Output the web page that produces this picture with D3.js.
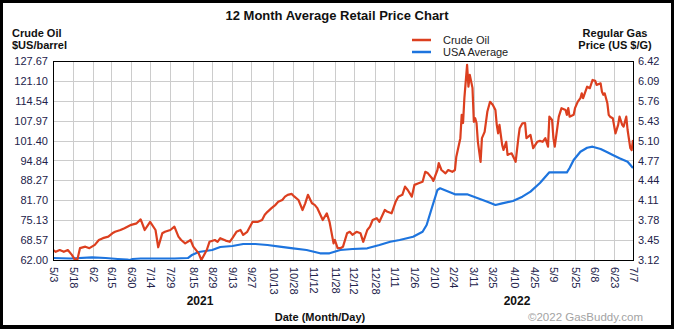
<!DOCTYPE html>
<html>
<head>
<meta charset="utf-8">
<script src="https://cdn.jsdelivr.net/npm/d3@7"></script>
<style>
  html, body { margin: 0; padding: 0; background: #fff; }
  svg { display: block; font-family: "Liberation Sans", Arial, sans-serif; }
</style>
</head>
<body>
<svg id="chart" width="674" height="329"></svg>
<script>
// Crude oil, $US per barrel
const oilDates = [
  "2021-05-03","2021-05-05","2021-05-08","2021-05-11","2021-05-14","2021-05-17","2021-05-19","2021-05-21",
  "2021-05-23","2021-05-27","2021-05-30","2021-06-03","2021-06-06","2021-06-09","2021-06-13","2021-06-16",
  "2021-06-18","2021-06-22","2021-06-25","2021-06-30","2021-07-04","2021-07-07","2021-07-10","2021-07-14",
  "2021-07-18","2021-07-20","2021-07-23","2021-07-25","2021-07-29","2021-08-01","2021-08-04","2021-08-06",
  "2021-08-09","2021-08-13","2021-08-15","2021-08-19","2021-08-21","2021-08-25","2021-08-27","2021-08-31",
  "2021-09-02","2021-09-04","2021-09-08","2021-09-11","2021-09-13","2021-09-16","2021-09-19","2021-09-21",
  "2021-09-24","2021-09-26","2021-09-28","2021-10-02","2021-10-05","2021-10-07","2021-10-09","2021-10-12",
  "2021-10-15","2021-10-17","2021-10-20","2021-10-22","2021-10-24","2021-10-27","2021-10-29","2021-11-01",
  "2021-11-04","2021-11-06","2021-11-08","2021-11-11","2021-11-13","2021-11-15","2021-11-19","2021-11-22",
  "2021-11-24","2021-11-27","2021-11-28","2021-11-30","2021-12-02","2021-12-04","2021-12-07","2021-12-09",
  "2021-12-11","2021-12-14","2021-12-17","2021-12-19","2021-12-22","2021-12-24","2021-12-26","2021-12-29",
  "2021-12-31","2022-01-04","2022-01-06","2022-01-09","2022-01-12","2022-01-14","2022-01-17","2022-01-19",
  "2022-01-21","2022-01-24","2022-01-26","2022-01-29","2022-02-01","2022-02-03","2022-02-05","2022-02-08",
  "2022-02-09","2022-02-12","2022-02-13","2022-02-15","2022-02-18","2022-02-20","2022-02-23","2022-02-25",
  "2022-02-26","2022-03-01","2022-03-02","2022-03-03","2022-03-04","2022-03-06","2022-03-07","2022-03-08",
  "2022-03-10","2022-03-11","2022-03-12","2022-03-13","2022-03-14","2022-03-16","2022-03-17","2022-03-19",
  "2022-03-21","2022-03-23","2022-03-25","2022-03-27","2022-03-28","2022-03-29","2022-03-30","2022-04-01",
  "2022-04-02","2022-04-04","2022-04-05","2022-04-08","2022-04-11","2022-04-13","2022-04-14","2022-04-16",
  "2022-04-18","2022-04-19","2022-04-22","2022-04-24","2022-04-27","2022-04-29","2022-05-01","2022-05-03",
  "2022-05-05","2022-05-06","2022-05-08","2022-05-09","2022-05-10","2022-05-12","2022-05-13","2022-05-15",
  "2022-05-18","2022-05-19","2022-05-20","2022-05-21","2022-05-24","2022-05-25","2022-05-27","2022-05-29",
  "2022-05-30","2022-05-31","2022-06-03","2022-06-05","2022-06-07","2022-06-09","2022-06-10","2022-06-13",
  "2022-06-14","2022-06-15","2022-06-16","2022-06-18","2022-06-19","2022-06-20","2022-06-22","2022-06-24",
  "2022-06-26","2022-06-27","2022-06-29","2022-06-30","2022-07-02","2022-07-03","2022-07-05","2022-07-06",
  "2022-07-07"
];
const oilValues = [
  65.3,64.7,65.3,64.7,65.3,63.7,62.3,62.0,
  65.9,66.4,65.9,67.0,68.6,69.2,69.7,70.8,
  71.3,71.9,72.5,73.6,74.1,75.4,71.9,74.6,
  71.9,66.2,70.8,71.3,71.9,73.0,69.7,68.6,
  67.5,68.6,66.4,64.2,62.0,65.3,68.0,68.6,
  68.0,69.2,68.4,68.0,69.2,71.3,71.9,70.3,
  71.3,73.0,74.6,74.6,75.2,76.9,77.9,79.1,
  80.2,81.2,81.8,82.9,83.5,83.8,82.9,81.8,
  78.5,80.7,83.5,80.7,80.2,79.1,75.2,77.4,
  74.6,67.5,68.6,65.9,65.9,66.4,70.8,71.3,
  70.3,71.3,70.8,68.0,71.9,73.0,75.2,75.8,
  74.6,78.5,77.9,77.4,81.2,82.9,83.5,86.2,
  85.1,82.9,86.8,87.3,87.8,91.1,90.6,89.0,
  88.1,91.7,94.0,91.7,90.6,91.7,91.1,91.7,
  96.1,102.2,109.9,107.2,115.5,126.4,119.2,123.1,
  118.8,107.6,108.8,107.2,101.0,94.4,102.2,104.3,
  110.9,114.2,113.2,111.5,106.6,103.8,106.6,100.0,
  98.3,101.0,96.7,97.2,94.4,102.2,105.5,107.1,
  107.2,102.2,103.3,98.9,101.0,101.3,101.0,102.2,
  99.4,109.3,108.2,102.2,99.4,106.0,109.3,112.1,
  111.5,109.9,112.1,109.3,109.9,112.1,114.2,115.4,
  117.0,115.4,119.2,118.7,121.4,121.1,119.8,120.3,
  117.5,116.5,117.0,113.7,109.9,109.3,108.8,103.8,
  106.6,109.3,106.6,106.0,109.3,104.9,98.9,98.3,
  101.6
];

// Regular gas, USA average, US $ per gallon
const gasDates = [
  "2021-05-03","2021-05-16","2021-06-01","2021-06-11","2021-06-20","2021-06-27","2021-06-29","2021-07-01",
  "2021-07-07","2021-07-21","2021-08-01","2021-08-11","2021-08-14","2021-08-19","2021-08-24","2021-08-29",
  "2021-09-04","2021-09-13","2021-09-21","2021-09-30","2021-10-09","2021-10-18","2021-10-28","2021-11-07",
  "2021-11-17","2021-11-24","2021-12-02","2021-12-11","2021-12-22","2021-12-31","2022-01-08","2022-01-15",
  "2022-01-25","2022-02-01","2022-02-04","2022-02-07","2022-02-09","2022-02-12","2022-02-14","2022-02-19",
  "2022-02-25","2022-03-06","2022-03-13","2022-03-21","2022-03-27","2022-04-01","2022-04-09","2022-04-16",
  "2022-04-22","2022-04-29","2022-05-06","2022-05-14","2022-05-19","2022-05-21","2022-05-24","2022-05-29",
  "2022-06-03","2022-06-07","2022-06-13","2022-06-18","2022-06-22","2022-06-27","2022-07-03","2022-07-07"
];
const gasValues = [
  3.153,3.145,3.165,3.153,3.137,3.128,3.120,3.137,
  3.145,3.145,3.145,3.153,3.203,3.253,3.269,3.286,
  3.336,3.352,3.385,3.385,3.369,3.341,3.314,3.286,
  3.231,3.231,3.286,3.302,3.314,3.369,3.423,3.452,
  3.506,3.589,3.700,3.921,4.065,4.281,4.309,4.264,
  4.209,4.209,4.153,4.087,4.032,4.060,4.098,4.170,
  4.253,4.397,4.574,4.574,4.574,4.645,4.778,4.916,
  4.982,4.999,4.961,4.906,4.861,4.806,4.750,4.645
];

// Axis ticks
const xTickDates = [
  "2021-05-03","2021-05-18","2021-06-02","2021-06-15","2021-06-30","2021-07-14","2021-07-29","2021-08-15",
  "2021-08-29","2021-09-13","2021-09-27","2021-10-13","2021-10-28","2021-11-12","2021-11-28","2021-12-12",
  "2021-12-28","2022-01-11","2022-01-26","2022-02-10","2022-02-24","2022-03-11","2022-03-25","2022-04-10",
  "2022-04-25","2022-05-09","2022-05-25","2022-06-08","2022-06-23","2022-07-07"
];
const oilTicks = [62.00, 68.57, 75.13, 81.70, 88.27, 94.84, 101.40, 107.97, 114.54, 121.10, 127.67];
const gasTicks = [3.12, 3.45, 3.78, 4.11, 4.44, 4.77, 5.10, 5.43, 5.76, 6.09, 6.42];
const yearLabels = ["2021", "2022"];

const W = 674, H = 329;
const plot = { left: 53, right: 633, top: 61, bottom: 260 };

const parse = d3.timeParse("%Y-%m-%d");
const fmtTick = d3.timeFormat("%-m/%-d");

const svg = d3.select("#chart");

// Frame
svg.append("rect").attr("x", 0).attr("y", 0).attr("width", W).attr("height", H).attr("fill", "#000");
svg.append("rect").attr("x", 3).attr("y", 3).attr("width", W - 6).attr("height", H - 7).attr("fill", "#fff");

const x = d3.scaleTime()
  .domain([parse(xTickDates[0]), parse(xTickDates[xTickDates.length - 1])])
  .range([plot.left, plot.right]);
const yOil = d3.scaleLinear().domain([oilTicks[0], oilTicks[oilTicks.length - 1]]).range([plot.bottom, plot.top]);
const yGas = d3.scaleLinear().domain([gasTicks[0], gasTicks[gasTicks.length - 1]]).range([plot.bottom, plot.top]);

const pw = plot.right - plot.left, ph = plot.bottom - plot.top;

// Grid
const grid = svg.append("g").attr("class", "grid");
grid.append("g")
  .attr("transform", `translate(${plot.left},0)`)
  .call(d3.axisLeft(yOil).tickValues(oilTicks).tickSize(-pw).tickFormat(""))
  .call(g => g.select(".domain").remove())
  .call(g => g.selectAll("line").attr("stroke", "#cccccc").attr("shape-rendering", "crispEdges"));
grid.append("g")
  .attr("transform", `translate(0,${plot.bottom})`)
  .call(d3.axisBottom(x).tickValues(xTickDates.map(parse)).tickSize(-ph).tickFormat(""))
  .call(g => g.select(".domain").remove())
  .call(g => g.selectAll("line").attr("stroke", "#cccccc").attr("shape-rendering", "crispEdges"));

// Series
svg.append("clipPath").attr("id", "plotClip")
  .append("rect").attr("x", plot.left).attr("y", plot.top - 2).attr("width", pw).attr("height", ph + 3);

const oilData = oilDates.map((d, i) => ({ date: parse(d), value: oilValues[i] }));
const gasData = gasDates.map((d, i) => ({ date: parse(d), value: gasValues[i] }));

const series = svg.append("g").attr("clip-path", "url(#plotClip)");
series.append("path")
  .datum(gasData)
  .attr("fill", "none")
  .attr("stroke", "#1d74de")
  .attr("stroke-width", 2.2)
  .attr("stroke-linejoin", "round")
  .attr("d", d3.line().x(d => x(d.date)).y(d => yGas(d.value)));
series.append("path")
  .datum(oilData)
  .attr("fill", "none")
  .attr("stroke", "#dc3f1f")
  .attr("stroke-width", 2.2)
  .attr("stroke-linejoin", "round")
  .attr("d", d3.line().x(d => x(d.date)).y(d => yOil(d.value)));

// Plot border
svg.append("rect")
  .attr("x", plot.left + 0.5).attr("y", plot.top + 0.5)
  .attr("width", pw).attr("height", ph)
  .attr("fill", "none").attr("stroke", "#000").attr("stroke-width", 1);

// Axes
const tickColor = "#22224a";
svg.append("g")
  .attr("transform", `translate(${plot.left},0)`)
  .call(d3.axisLeft(yOil).tickValues(oilTicks).tickSize(0).tickPadding(5).tickFormat(d3.format(".2f")))
  .call(g => g.select(".domain").remove())
  .call(g => g.selectAll("text").attr("fill", tickColor).style("font-size", "11px")
    .style("font-family", '"Liberation Sans", Arial, sans-serif'));

svg.append("g")
  .attr("transform", `translate(${plot.right},0)`)
  .call(d3.axisRight(yGas).tickValues(gasTicks).tickSize(0).tickPadding(5).tickFormat(d3.format(".2f")))
  .call(g => g.select(".domain").remove())
  .call(g => g.selectAll("text").attr("fill", tickColor).style("font-size", "11px")
    .style("font-family", '"Liberation Sans", Arial, sans-serif'));

svg.append("g")
  .attr("transform", `translate(0,${plot.bottom})`)
  .call(d3.axisBottom(x).tickValues(xTickDates.map(parse)).tickSize(0).tickPadding(0).tickFormat(fmtTick))
  .call(g => g.select(".domain").remove())
  .call(g => g.selectAll("text")
    .attr("fill", tickColor)
    .attr("text-anchor", "start")
    .attr("transform", "rotate(90)")
    .attr("x", 7).attr("y", 0).attr("dy", "0.35em")
    .style("font-size", "11px")
    .style("font-family", '"Liberation Sans", Arial, sans-serif'));

// Titles
const text = (t, x0, y0, opts = {}) => svg.append("text")
  .attr("x", x0).attr("y", y0)
  .attr("text-anchor", opts.anchor || "start")
  .attr("fill", opts.fill || "#111")
  .style("font-size", (opts.size || 11) + "px")
  .style("font-weight", opts.bold ? "bold" : "normal")
  .text(t);

text("12 Month Average Retail Price Chart", W / 2, 20, { anchor: "middle", size: 13, bold: true });
text("Crude Oil", 12, 37, { bold: true });
text("$US/barrel", 12, 49, { bold: true });
text("Regular Gas", 615, 37, { anchor: "middle", bold: true });
text("Price (US $/G)", 615, 49, { anchor: "middle", bold: true });

// Legend
const legend = [
  { name: "Crude Oil", color: "#dc3f1f" },
  { name: "USA Average", color: "#1d74de" }
];
legend.forEach((l, i) => {
  const ly = 40 + i * 12;
  svg.append("line").attr("x1", 412).attr("x2", 431).attr("y1", ly).attr("y2", ly)
    .attr("stroke", l.color).attr("stroke-width", 2.5);
  text(l.name, 443, ly + 4, { size: 11, fill: "#222" });
});

// Year labels and axis title
text(yearLabels[0], 200, 305, { anchor: "middle", size: 12, bold: true });
text(yearLabels[1], 517, 305, { anchor: "middle", size: 12, bold: true });
text("Date (Month/Day)", 320, 321, { anchor: "middle", size: 11, bold: true });
text("\u00a92022 GasBuddy.com", 643, 321, { anchor: "end", size: 11.5, fill: "#a3a3a3" });
</script>
</body>
</html>
